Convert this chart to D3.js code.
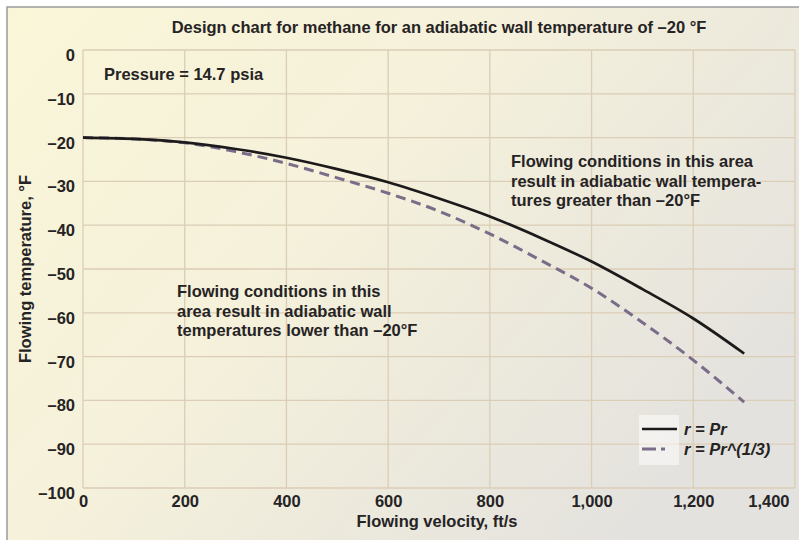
<!DOCTYPE html>
<html>
<head>
<meta charset="utf-8">
<script src="https://cdn.jsdelivr.net/npm/d3@7"></script>
<style>
  html, body { margin: 0; padding: 0; background: #fff; }
  svg { display: block; font-family: "Liberation Sans", Arial, sans-serif; }
  .lbl { font-weight: bold; fill: #262324; }
</style>
</head>
<body>
<svg id="chart" width="799" height="540"></svg>
<script>
// values
const velocity = [0, 100, 200, 300, 400, 500, 600, 700, 800, 900, 1000, 1100, 1200, 1300];
const tempPr = [-20, -20.3, -21.1, -22.6, -24.6, -27.2, -30.2, -33.9, -38.0, -42.9, -48.3, -54.6, -61.3, -69.3];
const tempPrCube = [-20, -20.3, -21.2, -23.2, -25.9, -29.2, -32.7, -36.8, -42.0, -48.0, -54.4, -62.2, -70.8, -80.4];

const xTicks = [0, 200, 400, 600, 800, 1000, 1200, 1400];
const yTicks = [0, -10, -20, -30, -40, -50, -60, -70, -80, -90, -100];

const series = [
  { name: "r = Pr", values: tempPr, color: "#1c1a1a", width: 2.7, dash: null },
  { name: "r = Pr^(1/3)", values: tempPrCube, color: "#7b6d8a", width: 3, dash: "10,6" },
];

const width = 799;
const height = 540;
const plot = { left: 83, right: 795, top: 50, bottom: 488 };
const fs = 16.5;

const svg = d3.select("#chart");
const defs = svg.append("defs");

const bg = defs.append("linearGradient")
  .attr("id", "bg")
  .attr("x1", "0").attr("y1", "0")
  .attr("x2", "1").attr("y2", "0.6");
bg.append("stop").attr("offset", "0").attr("stop-color", "#f9f6d8");
bg.append("stop").attr("offset", "0.45").attr("stop-color", "#f5f1db");
bg.append("stop").attr("offset", "1").attr("stop-color", "#e4e2de");

svg.append("rect")
  .attr("x", 7).attr("y", 7)
  .attr("width", width).attr("height", height)
  .attr("fill", "url(#bg)")
  .attr("stroke", "#9a9a9a")
  .attr("stroke-width", 1.5);

const x = d3.scaleLinear().domain([0, 1400]).range([plot.left, plot.right]);
const y = d3.scaleLinear().domain([-100, 0]).range([plot.bottom, plot.top]);

// grid
const grid = svg.append("g").attr("stroke", "#dccdb6").attr("stroke-width", 1.3);
grid.selectAll("line.v")
  .data(xTicks)
  .join("line")
  .attr("x1", (d) => x(d)).attr("x2", (d) => x(d))
  .attr("y1", plot.top).attr("y2", plot.bottom);
grid.selectAll("line.h")
  .data(yTicks)
  .join("line")
  .attr("class", "h")
  .attr("x1", plot.left).attr("x2", plot.right)
  .attr("y1", (d) => y(d)).attr("y2", (d) => y(d));

// axes (labels only)
const minus = (v) => (v < 0 ? "\u2013" + Math.abs(v) : String(v));

const xAxis = svg.append("g")
  .attr("transform", `translate(0,${plot.bottom})`)
  .call(d3.axisBottom(x).tickValues(xTicks).tickSize(0).tickPadding(0)
    .tickFormat(d3.format(",")));
xAxis.select(".domain").remove();
xAxis.selectAll("text")
  .attr("class", "lbl")
  .attr("font-size", fs)
  .attr("dy", null)
  .attr("y", 19)
  .attr("text-anchor", (d) => (d === 1400 ? "end" : "middle"))
  .attr("dx", (d) => (d === 1400 ? -6 : 0));

const yAxis = svg.append("g")
  .attr("transform", `translate(${plot.left},0)`)
  .call(d3.axisLeft(y).tickValues(yTicks).tickSize(0).tickPadding(8).tickFormat(minus));
yAxis.select(".domain").remove();
yAxis.selectAll("text")
  .attr("class", "lbl")
  .attr("font-size", fs)
  .attr("dy", null)
  .attr("y", 10.5);

// titles
svg.append("text")
  .attr("class", "lbl")
  .attr("x", (plot.left + plot.right) / 2)
  .attr("y", 33)
  .attr("text-anchor", "middle")
  .attr("font-size", fs)
  .text("Design chart for methane for an adiabatic wall temperature of \u201320 \u00b0F");

svg.append("text")
  .attr("class", "lbl")
  .attr("x", 437)
  .attr("y", 527)
  .attr("text-anchor", "middle")
  .attr("font-size", fs)
  .text("Flowing velocity, ft/s");

svg.append("text")
  .attr("class", "lbl")
  .attr("transform", `translate(31,${(plot.top + plot.bottom) / 2}) rotate(-90)`)
  .attr("text-anchor", "middle")
  .attr("font-size", fs)
  .text("Flowing temperature, \u00b0F");

svg.append("text")
  .attr("class", "lbl")
  .attr("x", 104)
  .attr("y", 80)
  .attr("font-size", fs)
  .text("Pressure = 14.7 psia");

function note(lines, x0, y0) {
  const t = svg.append("text")
    .attr("class", "lbl")
    .attr("font-size", fs);
  t.selectAll("tspan")
    .data(lines)
    .join("tspan")
    .attr("x", x0)
    .attr("y", (d, i) => y0 + i * 19.5)
    .text((d) => d);
}

note([
  "Flowing conditions in this area",
  "result in adiabatic wall tempera-",
  "tures greater than \u201320\u00b0F",
], 511, 167);

note([
  "Flowing conditions in this",
  "area result in adiabatic wall",
  "temperatures lower than \u201320\u00b0F",
], 177, 297);

// curves
const line = d3.line()
  .x((d) => x(d[0]))
  .y((d) => y(d[1]))
  .curve(d3.curveMonotoneX);

svg.append("g")
  .selectAll("path")
  .data(series.slice().reverse())
  .join("path")
  .attr("fill", "none")
  .attr("stroke", (d) => d.color)
  .attr("stroke-width", (d) => d.width)
  .attr("stroke-dasharray", (d) => d.dash)
  .attr("d", (d) => line(d3.zip(velocity, d.values)));

// legend
const legend = svg.append("g").attr("transform", "translate(642,429)");
legend.append("rect")
  .attr("x", -3).attr("y", -14)
  .attr("width", 40).attr("height", 50)
  .attr("fill", "#ffffff")
  .attr("opacity", 0.5);
const item = legend.selectAll("g")
  .data(series)
  .join("g")
  .attr("transform", (d, i) => `translate(0,${i * 20})`);
item.append("line")
  .attr("x1", 0).attr("x2", 35)
  .attr("stroke", (d) => d.color)
  .attr("stroke-width", (d) => d.width)
  .attr("stroke-dasharray", (d) => (d.dash ? "14,5,4,20" : null));
item.append("text")
  .attr("class", "lbl")
  .attr("x", 42)
  .attr("y", 6)
  .attr("font-size", fs)
  .attr("font-style", "italic")
  .text((d) => d.name);
</script>
</body>
</html>
